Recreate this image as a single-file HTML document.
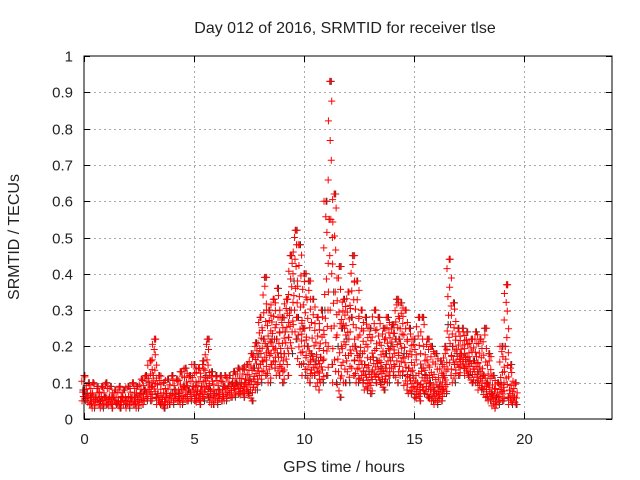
<!DOCTYPE html>
<html><head><meta charset="utf-8"><style>
body{margin:0;background:#fff;}
svg{display:block;font-family:"Liberation Sans",sans-serif;}
</style></head><body>
<svg id="chart" width="640" height="480" viewBox="0 0 640 480" xmlns="http://www.w3.org/2000/svg">
<rect width="640" height="480" fill="#fff"/>
<g id="grid"></g>
<g id="pts"></g>
<rect x="84" y="56" width="528" height="363" fill="none" stroke="#000" stroke-width="1"/>
<g id="ticks"></g>
<text x="345" y="33" text-anchor="middle" font-size="16" fill="#222">Day 012 of 2016, SRMTID for receiver tlse</text>
<text x="344" y="472" text-anchor="middle" font-size="16" fill="#222">GPS time / hours</text>
<text transform="translate(19,237) rotate(-90)" text-anchor="middle" font-size="16" fill="#222">SRMTID / TECUs</text>
</svg>
<script>
const times=[0,0.2,0.4,0.6,0.8,1,1.2,1.4,1.6,1.8,2,2.2,2.4,2.6,2.8,3,3.2,3.4,3.6,3.8,4,4.2,4.4,4.6,4.8,5,5.2,5.4,5.6,5.8,6,6.2,6.4,6.6,6.8,7,7.2,7.4,7.6,7.8,8,8.2,8.4,8.6,8.8,9,9.2,9.4,9.6,9.8,10,10.2,10.4,10.6,10.8,11,11.2,11.4,11.6,11.8,12,12.2,12.4,12.6,12.8,13,13.2,13.4,13.6,13.8,14,14.2,14.4,14.6,14.8,15,15.2,15.4,15.6,15.8,16,16.2,16.4,16.6,16.8,17,17.2,17.4,17.6,17.8,18,18.2,18.4,18.6,18.8,19,19.2,19.4,19.6];
const lowVals=[.05,.04,.03,.04,.03,.04,.03,.04,.03,.04,.03,.04,.03,.04,.05,.05,.06,.04,.03,.04,.04,.05,.04,.05,.05,.05,.04,.05,.06,.04,.04,.05,.05,.06,.06,.07,.06,.07,.05,.08,.10,.12,.10,.14,.12,.10,.12,.18,.22,.15,.12,.10,.12,.08,.10,.12,.15,.10,.06,.10,.10,.12,.10,.10,.08,.07,.10,.10,.08,.10,.12,.10,.12,.08,.07,.06,.05,.07,.06,.05,.04,.05,.07,.12,.10,.12,.14,.12,.10,.10,.08,.06,.05,.03,.04,.05,.06,.04,.04];
const midVals=[.08,.07,.06,.06,.05,.06,.06,.06,.05,.06,.05,.06,.06,.07,.08,.10,.12,.07,.06,.07,.07,.08,.07,.09,.08,.09,.08,.09,.12,.08,.07,.08,.09,.09,.10,.10,.10,.11,.11,.14,.18,.22,.20,.22,.22,.18,.24,.30,.38,.28,.25,.20,.18,.16,.17,.30,.55,.35,.20,.25,.22,.28,.20,.18,.15,.13,.17,.16,.14,.18,.20,.22,.22,.18,.14,.12,.10,.14,.12,.10,.08,.09,.12,.26,.20,.18,.18,.17,.16,.16,.13,.12,.10,.07,.06,.10,.20,.08,.06];
const highVals=[.12,.10,.10,.09,.09,.10,.09,.08,.09,.08,.09,.10,.09,.11,.12,.16,.22,.12,.10,.11,.12,.11,.13,.14,.12,.15,.14,.16,.22,.13,.12,.12,.12,.12,.13,.14,.14,.15,.18,.21,.28,.39,.30,.33,.36,.28,.33,.45,.52,.48,.40,.38,.33,.28,.30,.60,.93,.62,.42,.33,.35,.45,.38,.30,.28,.25,.30,.28,.25,.28,.26,.33,.32,.30,.25,.22,.28,.28,.22,.20,.18,.16,.20,.44,.32,.25,.25,.24,.22,.24,.22,.25,.18,.12,.10,.20,.37,.15,.10];
const xTicks=[0,5,10,15,20];
const yTicks=[0,0.1,0.2,0.3,0.4,0.5,0.6,0.7,0.8,0.9,1];
const L=84,R=612,T=56,B=419;
const xs=v=>L+v/24*(R-L);
const ys=v=>B-v*(B-T);
const NS="http://www.w3.org/2000/svg";
const grid=document.getElementById('grid'),ticks=document.getElementById('ticks'),pts=document.getElementById('pts');
function ln(p,x1,y1,x2,y2,st,dash){const e=document.createElementNS(NS,'line');e.setAttribute('x1',x1);e.setAttribute('y1',y1);e.setAttribute('x2',x2);e.setAttribute('y2',y2);e.setAttribute('stroke',st);if(dash)e.setAttribute('stroke-dasharray',dash);p.appendChild(e);return e;}
function tx(p,x,y,s,anc){const e=document.createElementNS(NS,'text');e.setAttribute('x',x);e.setAttribute('y',y);e.setAttribute('text-anchor',anc);e.setAttribute('font-size','15');e.setAttribute('fill','#222');e.textContent=s;p.appendChild(e);return e;}
xTicks.forEach(v=>{const x=Math.round(xs(v))+.5;
 if(v>0){const g=ln(grid,x,T,x,B,'#aaa','2,3');
 
 }
 ln(ticks,x,B,x,B-6,'#000');ln(ticks,x,T,x,T+6,'#000');
 const t=tx(ticks,x,444,String(v),'middle');
 
 });
yTicks.forEach(v=>{const y=Math.round(ys(v))+.5;
 if(v>0&&v<1){const g=ln(grid,L,y,R,y,'#aaa','2,3');
 
 }
 ln(ticks,L,y,L+6,y,'#000');ln(ticks,R,y,R-6,y,'#000');
 const t=tx(ticks,73,y+5,String(v),'end');
 
 });
function plus(x,y,c){const p=document.createElementNS(NS,'path');p.setAttribute('d',`M${x-3.5} ${y}h7M${x} ${y-3.5}v7`);p.setAttribute('stroke',c);p.setAttribute('fill','none');
 
 
 pts.appendChild(p);}
const offs=[-0.09,0.06,-0.03,0.09,-0.06,0.02,0.1,-0.1,0.04,-0.01];
times.forEach((t,i)=>{plus(xs(t+0.04),ys(highVals[i]),'#333');plus(xs(t-0.05),ys(midVals[i]),'#333');plus(xs(t+0.08),ys(lowVals[i]),'#333');});
times.forEach((t,i)=>{
 const lo=lowVals[i],hi=highVals[i],md=midVals[i];
 const stepLo=Math.max(0.006,(md-lo)/8),stepHi=Math.max(0.012,(hi-md)/7);
 let k=i%10;
 for(let v=lo;v<md;v+=stepLo){plus(xs(t+offs[k%10]),ys(v),'#f00');k++;}
 for(let v=md;v<=hi+1e-9;v+=stepHi){plus(xs(t+offs[k%10]),ys(v),'#f00');k++;}
 plus(xs(t),ys(hi),'#f00');
});
</script>
</body></html>
